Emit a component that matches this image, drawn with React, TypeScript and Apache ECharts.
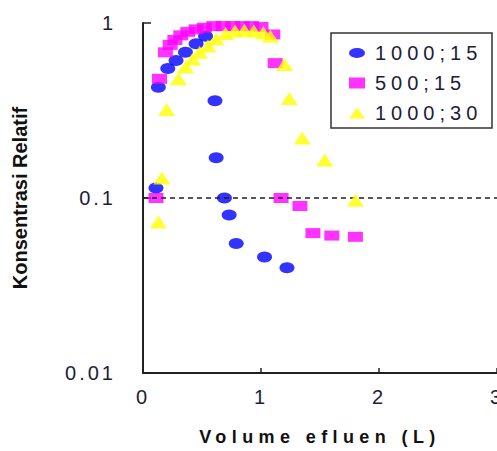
import React, { useEffect, useRef } from "react";
import * as echarts from "echarts";

// Series names as shown in the legend (bed volume; flow)
const seriesNames = ["1000;15", "500;15", "1000;30"];

// [volume efluen (L), konsentrasi relatif]
const data1000_15: [number, number][] = [
  [0.11, 0.114], [0.13, 0.43], [0.21, 0.55], [0.28, 0.61], [0.36, 0.68],
  [0.45, 0.76], [0.53, 0.84], [0.61, 0.36], [0.62, 0.17], [0.69, 0.1],
  [0.73, 0.08], [0.79, 0.055], [1.03, 0.046], [1.22, 0.04],
];

const data500_15: [number, number][] = [
  [0.11, 0.1], [0.14, 0.48], [0.19, 0.68], [0.23, 0.75], [0.27, 0.8],
  [0.32, 0.85], [0.38, 0.89], [0.45, 0.92], [0.52, 0.94], [0.6, 0.96],
  [0.68, 0.96], [0.76, 0.96], [0.84, 0.96], [0.92, 0.96], [1.0, 0.95],
  [1.1, 0.86], [1.12, 0.59], [1.17, 0.1], [1.33, 0.09], [1.44, 0.063],
  [1.6, 0.061], [1.8, 0.06],
];

const data1000_30: [number, number][] = [
  [0.13, 0.073], [0.16, 0.13], [0.2, 0.32], [0.3, 0.48], [0.36, 0.56],
  [0.42, 0.62], [0.48, 0.68], [0.55, 0.74], [0.62, 0.81], [0.7, 0.87],
  [0.78, 0.9], [0.86, 0.91], [0.94, 0.9], [1.02, 0.88], [1.08, 0.84],
  [1.2, 0.58], [1.24, 0.37], [1.35, 0.22], [1.54, 0.165], [1.8, 0.097],
];

const xMin = 0;
const xMax = 3;
const xStep = 1;
const yMin = 0.01;
const yMax = 1;
const referenceLevel = 0.1;

const X_TITLE = "Volume efluen (L)";
const Y_TITLE = "Konsentrasi Relatif";

const FONT = "'Liberation Sans', Arial, sans-serif";
const LABEL_COLOR = "#1c1c38";
const AXIS_COLOR = "#222";

// Flattened dot used for the first series, in the plot and in the legend
const ELLIPSE_ICON = "path://M0 5A8 5 0 1 0 16 5A8 5 0 1 0 0 5Z";

// The printed figure spaces its letters out; SVG text takes CSS letter-spacing.
function spaceLetters(root: HTMLElement) {
  root.querySelectorAll("text").forEach((node) => {
    const t = node.textContent || "";
    let ls = "";
    if (seriesNames.includes(t)) ls = "5px";
    else if (t === X_TITLE) ls = "5.4px";
    else if (/^[0-9.]+$/.test(t)) ls = "3px";
    if (ls) (node as SVGTextElement).style.letterSpacing = ls;
  });
}

export default function App() {
  const ref = useRef<HTMLDivElement>(null);

  useEffect(() => {
    if (!ref.current) return;
    const chart = echarts.init(ref.current, null, { renderer: "svg" });

    const option: any = {
      animation: false,
      backgroundColor: "#fff",
      textStyle: { fontFamily: FONT },
      grid: { left: 143, right: 0, top: 23, bottom: 78, outerBoundsMode: "none", containLabel: false },
      legend: {
        orient: "vertical",
        left: 331,
        top: 33,
        padding: [10, 10, 9, 18],
        itemWidth: 16,
        itemHeight: 11,
        itemGap: 10,
        textStyle: {
          fontSize: 20,
          lineHeight: 14,
          color: LABEL_COLOR,
          fontFamily: FONT,
          padding: [0, 0, 0, 5],
        },
        data: [
          { name: seriesNames[0], icon: ELLIPSE_ICON },
          { name: seriesNames[1], icon: "rect" },
          { name: seriesNames[2], icon: "triangle" },
        ],
      },
      graphic: [
        {
          type: "rect",
          shape: { x: 331, y: 33, width: 161, height: 95 },
          style: { fill: "none", stroke: "#333", lineWidth: 1.5 },
          z: 10,
        },
      ],
      xAxis: {
        type: "value",
        min: xMin,
        max: xMax,
        interval: xStep,
        axisLine: { lineStyle: { color: AXIS_COLOR, width: 2 } },
        axisTick: { inside: true, length: 5, lineStyle: { color: AXIS_COLOR, width: 1.5 } },
        axisLabel: {
          fontSize: 20,
          color: LABEL_COLOR,
          margin: 14,
          fontFamily: FONT,
          showMaxLabel: true,
          showMinLabel: true,
        },
        splitLine: { show: false },
        name: X_TITLE,
        nameLocation: "middle",
        nameGap: 55,
        nameTextStyle: { fontSize: 18, fontWeight: "bold", color: "#111", fontFamily: FONT },
      },
      yAxis: {
        type: "log",
        logBase: 10,
        min: yMin,
        max: yMax,
        axisLine: { show: true, lineStyle: { color: AXIS_COLOR, width: 2 } },
        axisTick: { show: true, inside: true, length: 8, lineStyle: { color: AXIS_COLOR, width: 1.5 } },
        axisLabel: {
          fontSize: 20,
          color: LABEL_COLOR,
          margin: 27,
          fontFamily: FONT,
          formatter: (v: number) => String(Number(v.toPrecision(3))),
        },
        splitLine: { show: false },
        minorTick: { show: false },
        name: Y_TITLE,
        nameLocation: "middle",
        nameGap: 113,
        nameTextStyle: { fontSize: 20, fontWeight: "bold", color: "#111", fontFamily: FONT },
      },
      series: [
        {
          type: "scatter",
          name: "ref",
          data: [],
          z: 1,
          silent: true,
          markLine: {
            silent: true,
            symbol: "none",
            label: { show: false },
            lineStyle: { color: "#222", width: 1.5, type: [5, 4] },
            data: [{ yAxis: referenceLevel }],
          },
        },
        {
          type: "scatter",
          name: seriesNames[0],
          data: data1000_15,
          symbol: "circle",
          symbolSize: [15, 11],
          itemStyle: { color: "#0000ff" },
          z: 3,
        },
        {
          type: "scatter",
          name: seriesNames[1],
          data: data500_15,
          symbol: "rect",
          symbolSize: [15, 10],
          itemStyle: { color: "#ff00ff" },
          z: 4,
        },
        {
          type: "scatter",
          name: seriesNames[2],
          data: data1000_30,
          symbol: "triangle",
          symbolSize: [17, 13],
          itemStyle: { color: "#ffff00" },
          z: 5,
        },
      ],
    };

    chart.setOption(option);
    spaceLetters(ref.current);
    const onFinished = () => ref.current && spaceLetters(ref.current);
    chart.on("finished", onFinished);

    return () => {
      chart.off("finished", onFinished);
      chart.dispose();
    };
  }, []);

  return (
    <div
      ref={ref}
      style={{ position: "absolute", left: 0, top: 0, width: 497, height: 451, background: "#fff" }}
    />
  );
}
